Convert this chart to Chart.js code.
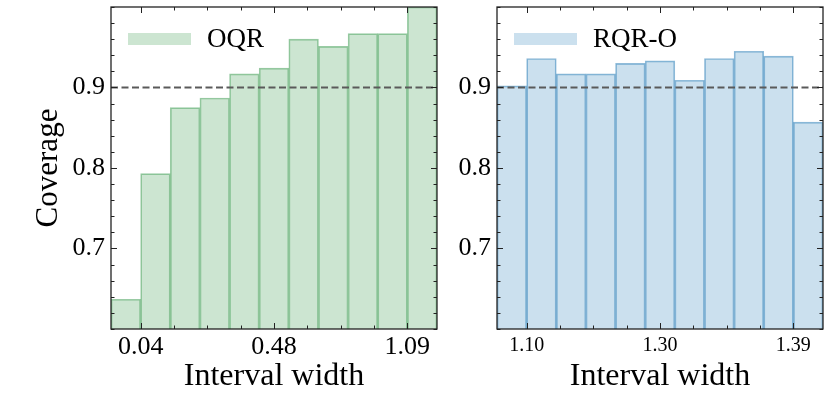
<!DOCTYPE html>
<html>
<head>
<meta charset="utf-8">
<script src="https://cdn.jsdelivr.net/npm/chart.js@4.4.1/dist/chart.umd.min.js"></script>
<style>
  html, body { margin: 0; padding: 0; background: #fff; }
  #wrap { position: relative; width: 830px; height: 401px; overflow: hidden; }
  .panel { position: absolute; top: 0; }
</style>
</head>
<body>
<div id="wrap">
  <div class="panel" style="left:0px;width:450px;height:401px"><canvas id="oqrChart" width="450" height="401"></canvas></div>
  <div class="panel" style="left:440px;width:390px;height:401px"><canvas id="rqrChart" width="390" height="401"></canvas></div>
</div>
<script>
// Coverage per interval-width bin (11 bins per panel)
const oqrCoverage = [0.637, 0.793, 0.875, 0.887, 0.917, 0.924, 0.960, 0.951, 0.967, 0.967, 1.0];
const rqrCoverage = [0.902, 0.936, 0.917, 0.917, 0.930, 0.933, 0.909, 0.936, 0.945, 0.939, 0.857];

// x tick labels and where they sit, in bin units
const oqrTickLabels = ['0.04', '0.48', '1.09'];
const rqrTickLabels = ['1.10', '1.30', '1.39'];
const tickBins = [1, 5.5, 10];

const yTickValues = [0.7, 0.8, 0.9];
const targetCoverage = 0.9;

Chart.defaults.font.family = "'Liberation Serif', 'DejaVu Serif', serif";
Chart.defaults.color = '#000';

// inward ticks on all four sides plus the frame, and the legend patch
const frameTicks = {
    id: 'frameTicks',
    afterDraw(chart, args, opts) {
        const { ctx, chartArea: a, scales: { x, y } } = chart;
        ctx.save();
        ctx.strokeStyle = '#222';
        ctx.lineWidth = 1;
        const xMajors = x.ticks.map(t => t.value);
        const yMajors = y.ticks.map(t => t.value);
        const xs = [];
        for (let v = opts.xStart; v <= x.max + 1e-9; v += opts.xMinor) xs.push(v);
        for (let v = opts.xStart - opts.xMinor; v >= x.min - 1e-9; v -= opts.xMinor) xs.push(v);
        xs.forEach(v => {
            const px = Math.round(x.getPixelForValue(v)) + 0.5;
            const len = xMajors.some(m => Math.abs(m - v) < 1e-6) ? 6 : 3.5;
            ctx.beginPath();
            ctx.moveTo(px, a.bottom); ctx.lineTo(px, a.bottom - len);
            ctx.moveTo(px, a.top); ctx.lineTo(px, a.top + len);
            ctx.stroke();
        });
        for (let v = y.min; v <= y.max + 1e-9; v += opts.yMinor) {
            const py = Math.round(y.getPixelForValue(v)) + 0.5;
            const len = yMajors.some(m => Math.abs(m - v) < 1e-6) ? 6 : 3.5;
            ctx.beginPath();
            ctx.moveTo(a.left, py); ctx.lineTo(a.left + len, py);
            ctx.moveTo(a.right, py); ctx.lineTo(a.right - len, py);
            ctx.stroke();
        }
        ctx.lineWidth = 1.3;
        ctx.strokeRect(a.left, a.top, a.right - a.left, a.bottom - a.top);

        // legend
        const ds = chart.data.datasets[0];
        const lx = a.left + 17, ly = a.top + 26;
        ctx.fillStyle = ds.backgroundColor;
        ctx.fillRect(lx, ly, 63, 12);
        ctx.fillStyle = '#000';
        ctx.font = "27px 'Liberation Serif', serif";
        ctx.textBaseline = 'middle';
        ctx.textAlign = 'left';
        ctx.fillText(ds.label, lx + 79, ly + 7);
        ctx.restore();
    }
};

function makePanel(canvasId, label, values, tickLabels, fill, edge, sizes) {
    return new Chart(document.getElementById(canvasId), {
        type: 'bar',
        data: {
            datasets: [{
                label: label,
                data: values.map((v, i) => ({ x: i + 0.5, y: v })),
                backgroundColor: fill,
                borderColor: edge,
                borderWidth: 1,
                barPercentage: 1,
                categoryPercentage: 1,
                order: 1,
            }, {
                type: 'line',
                label: 'target',
                data: [{ x: 0, y: targetCoverage }, { x: values.length, y: targetCoverage }],
                borderColor: '#5a5a5a',
                borderWidth: 2,
                borderDash: [7, 3.5],
                pointRadius: 0,
                order: 0,
            }],
        },
        options: {
            responsive: false,
            animation: false,
            layout: { padding: { top: 7, right: sizes.right, bottom: 0, left: 0 } },
            plugins: {
                legend: { display: false },
                tooltip: { enabled: false },
                frameTicks: { xStart: tickBins[0], xMinor: 1.125, yMinor: 0.02 },
            },
            scales: {
                x: {
                    type: 'linear',
                    min: 0,
                    max: values.length,
                    offset: false,
                    grid: { display: false, drawTicks: false },
                    border: { display: false },
                    afterBuildTicks: s => { s.ticks = tickBins.map(v => ({ value: v })); },
                    afterFit: s => {
                        s.height = 72;
                        s.paddingLeft = 0; s.paddingRight = 0;
                    },
                    ticks: {
                        autoSkip: false,
                        maxRotation: 0,
                        padding: sizes.xTickPad,
                        font: { size: sizes.xTickFont },
                        callback: (v, i) => tickLabels[i],
                    },
                    title: {
                        display: true,
                        text: 'Interval width',
                        font: { size: 32 },
                        padding: { top: 0, bottom: 5 },
                    },
                },
                y: {
                    min: 0.6,
                    max: 1.0,
                    grid: { display: false, drawTicks: false },
                    border: { display: false },
                    afterBuildTicks: s => { s.ticks = yTickValues.map(v => ({ value: v })); },
                    afterFit: s => {
                        s.width = sizes.yWidth;
                        s.paddingTop = 0; s.paddingBottom = 0;
                    },
                    ticks: {
                        padding: 6,
                        font: { size: 26 },
                        callback: v => v.toFixed(1),
                    },
                    title: {
                        display: sizes.yTitle,
                        text: 'Coverage',
                        font: { size: 31 },
                        padding: { top: 30, bottom: 0 },
                    },
                },
            },
        },
        plugins: [frameTicks],
    });
}

makePanel('oqrChart', 'OQR', oqrCoverage, oqrTickLabels,
    'rgba(85, 168, 104, 0.3)', 'rgba(85, 168, 104, 0.6)',
    { right: 13, yWidth: 111, yTitle: true, xTickFont: 26, xTickPad: 3 });

makePanel('rqrChart', 'RQR-O', rqrCoverage, rqrTickLabels,
    'rgba(31, 119, 180, 0.23)', 'rgba(31, 119, 180, 0.5)',
    { right: 7, yWidth: 57, yTitle: false, xTickFont: 20, xTickPad: 5 });
</script>
</body>
</html>
